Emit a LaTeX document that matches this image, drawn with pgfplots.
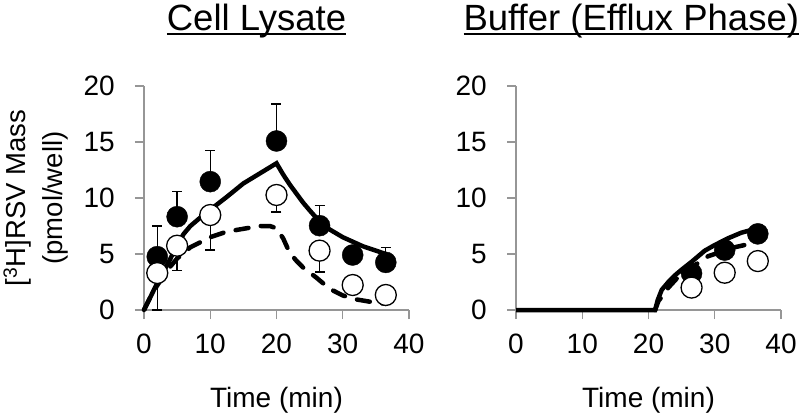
\documentclass[border=0pt]{standalone}
\usepackage{fontspec}
\setmainfont{Liberation Sans}
\usepackage{pgfplots}
\pgfplotsset{compat=1.18}

\definecolor{axgray}{RGB}{150,150,150}

% underline drawn through the descenders, as in the original
\newsavebox\ulbox
\newcommand\myul[1]{\sbox\ulbox{#1}\rlap{\rule[-5bp]{\wd\ulbox}{2.2bp}}\usebox\ulbox}

\pgfplotsset{
  panel/.style={
    scale only axis, width=265bp, height=224bp,
    xmin=0, xmax=40, ymin=0, ymax=20,
    xtick={0,10,20,30,40}, ytick={0,5,10,15,20},
    axis x line*=bottom, axis y line*=left,
    axis line style={-, draw=axgray, line width=1.3bp},
    tick style={draw=axgray, line width=1.3bp},
    tick align=outside, major tick length=9bp,
    clip=false,
    /pgf/number format/assume math mode=true,
    ticklabel style={font=\fontsize{28bp}{30bp}\selectfont, inner sep=0pt},
    xticklabel style={anchor=north, yshift=-15bp},
    yticklabel style={anchor=east, xshift=-20bp},
    xlabel={Time (min)},
    xlabel style={at={(axis description cs:0.5,0)}, anchor=base, yshift=-97bp,
      inner sep=0pt, font=\fontsize{28bp}{30bp}\selectfont},
    title style={anchor=base, yshift=50bp, inner sep=0pt,
      font=\fontsize{36.5bp}{38bp}\selectfont},
  },
  fit/.style={black, line width=4.5bp},
  fitdash/.style={black, line width=4.5bp, line cap=round, dash pattern=on 13bp off 12.5bp},
  filled/.style={only marks, mark=*, mark size=10.5bp, mark options={fill=black, draw=black}},
  open/.style={only marks, mark=*, mark size=10.5bp, mark options={fill=white, draw=black, line width=1.3bp}},
  ebar/.style={draw=none, mark=none, forget plot,
    error bars/.cd, y explicit, y dir=#1,
    error bar style={draw=black, solid, line width=1.3bp},
    error mark options={rotate=90, draw=black, mark size=5bp, line width=1.3bp}},
}

\begin{document}
\begin{tikzpicture}
\path[use as bounding box] (-144bp,-106bp) rectangle (662bp,310bp);

% ---- Cell Lysate ----
\begin{axis}[panel,
    title={\myul{Cell Lysate}},
    title style={at={(axis description cs:0.4245,1)}},
    ylabel={[\textsuperscript{3}H]RSV Mass\\[6bp](pmol/well)},
    ylabel style={at={([xshift=-108bp]axis description cs:0,0.5)}, anchor=center,
      align=center, inner sep=0pt, font=\fontsize{27.5bp}{31bp}\selectfont},
  ]
  \addplot[ebar=plus] coordinates {
    (2,4.76) +- (0,2.74) (5,8.33) +- (0,2.24) (10,11.46) +- (0,2.77)
    (20,15.09) +- (0,3.30) (26.5,7.53) +- (0,1.79) (36.5,4.25) +- (0,1.31)
  };
  \addplot[ebar=minus] coordinates {
    (2,3.30) +- (0,3.30) (5,5.74) +- (0,2.23) (10,8.48) +- (0,3.12)
    (20,10.27) +- (0,1.52) (26.5,5.30) +- (0,1.91)
  };
  \addplot[fit] coordinates {
    (0,0) (1,1.2) (2,2.4) (3,3.5) (4,4.6) (5,5.8) (6,6.8) (7,7.5) (8,8.0)
    (9,8.5) (10,8.95) (12.5,10.1) (15,11.3) (17.5,12.2) (20,13.1)
    (21,12.1) (22,11.2) (23,10.4) (24,9.6) (25,8.9) (26.5,7.9) (28,7.2)
    (30,6.5) (31.5,6.1) (33,5.7) (35,5.3) (36.5,5.0)
  };
  \addplot[fitdash] coordinates {
    (0,0) (1,1.2) (2,2.2) (3,3.1) (4,3.9) (5,4.6) (7,5.6) (10,6.5) (12,6.9)
    (14,7.15) (17.5,7.5) (19,7.5) (20,7.3) (21,6.4) (22,5.1) (23,4.4)
    (24,3.8) (26,2.9) (28,1.9) (30,1.3) (32,0.95) (34,0.75) (36.5,0.55)
  };
  \addplot[filled] coordinates {
    (2,4.76) (5,8.33) (10,11.46) (20,15.09) (26.5,7.53) (31.5,4.91) (36.5,4.25)
  };
  \addplot[open] coordinates {
    (2,3.30) (5,5.74) (10,8.48) (20,10.27) (26.5,5.30) (31.5,2.23) (36.5,1.34)
  };
\end{axis}

% ---- Buffer (Efflux Phase) ----
\begin{axis}[panel, at={(372bp,0)},
    title={\myul{Buffer (Efflux Phase)}},
    title style={at={(axis description cs:0.435,1)}},
  ]
  \addplot[fit] coordinates {
    (0,0) (21,0) (21.4,0.9) (22,1.8) (23,2.5) (24,3.1) (25,3.6) (26.5,4.3)
    (28.5,5.3) (30,5.8) (32,6.4) (34,6.9) (36.5,7.3)
  };
  \addplot[fitdash] coordinates {
    (21,0) (21.5,0.8) (22.3,1.4) (23,2.0) (24.4,2.9) (26.5,3.8) (29,4.8)
    (31.5,5.3) (33,5.6) (34.5,5.8) (36.5,6.1)
  };
  \addplot[filled] coordinates {
    (26.5,3.27) (31.5,5.35) (36.5,6.8)
  };
  \addplot[open] coordinates {
    (26.5,2.0) (31.5,3.33) (36.5,4.37)
  };
\end{axis}
\end{tikzpicture}
\end{document}
